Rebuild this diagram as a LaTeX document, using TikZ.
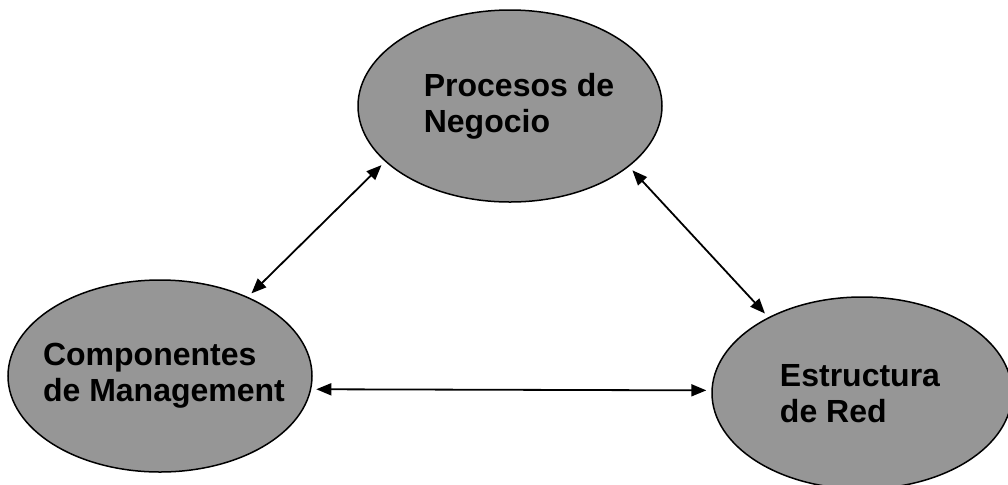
\documentclass[tikz,border=0pt]{standalone}
\usepackage{fontspec}
\setmainfont{Liberation Sans}
\usetikzlibrary{shapes.geometric,arrows.meta}
\definecolor{bubblegray}{RGB}{150,150,150}
\tikzset{
  bubble/.style={draw=black,line width=0.75pt,fill=bubblegray,ellipse,
    minimum width=152pt,minimum height=96pt,inner sep=0pt},
  bubbletext/.style={align=left,inner sep=0pt,
    font=\fontsize{16pt}{18pt}\selectfont\bfseries},
  link/.style={{Triangle[length=7.5pt,width=6pt]}-{Triangle[length=7.5pt,width=6pt]},
    line width=0.9pt,shorten <=2.5pt,shorten >=2.5pt}
}
\begin{document}
\begin{tikzpicture}[x=0.5pt,y=-0.5pt]
   \useasboundingbox (0,0) rectangle (1008,484);
   \node[bubble] (procesos) at (510,106) {};
   \node[bubble] (management) at (160,376) {};
   \node[bubble,minimum width=150pt] (red) at (862,393) {};
   \node[bubbletext] (procesostxt) at (519,106) {Procesos de\\Negocio};
   \node[bubbletext] (managementtxt) at (164,376) {Componentes\\de Management};
   \node[bubbletext] (redtxt) at (860,394) {Estructura\\de Red};
   \draw[link] (management.42) -- (procesos.204);
   \draw[link] (procesos.333) -- (red.141);
   \draw[link] (management.-5.5) -- (red.179.3);
  \end{tikzpicture}
\end{document}
